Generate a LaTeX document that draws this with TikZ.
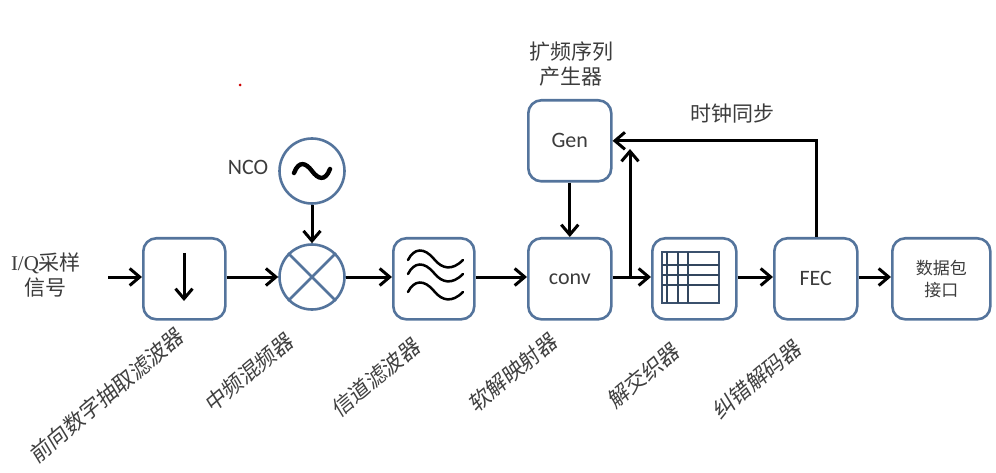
\documentclass[tikz,border=0pt]{standalone}
\usepackage{fontspec}
\setmainfont{Carlito}
\newfontfamily\cjk{Noto Sans CJK SC}
\usetikzlibrary{arrows.meta}
\definecolor{boxblue}{RGB}{84,116,156}
\definecolor{txt}{RGB}{60,60,60}
\tikzset{
 x=1pt,y=-1pt,
 block/.style={draw=boxblue,line width=2.6pt,rounded corners=13pt,fill=white,inner sep=0pt,anchor=north west,text=txt},
 disc/.style={draw=boxblue,line width=2.6pt,circle,minimum size=65pt,inner sep=0pt,fill=white},
 flow/.style={line width=3pt,black,-{Straight Barb[length=10pt,width=17pt,line width=3pt]}},
 lab/.style={text=txt,font=\cjk\fontsize{21}{25}\selectfont,align=center,inner sep=0pt},
 slab/.style={text=black!75,font=\cjk\fontsize{21.5}{25}\selectfont,inner sep=0pt,rotate=40,xslant=0.15,anchor=center},
 sans/.style={font=\fontsize{22}{24}\selectfont}
}
\begin{document}
\begin{tikzpicture}
\useasboundingbox (0,0) rectangle (996,473);
\node[block,minimum width=82pt,minimum height=81pt] (dec) at (142,237) {};
\node[disc] (mix) at (312,277) {};
\node[disc] (nco) at (312,171) {};
\node[block,minimum width=81pt,minimum height=81pt] (flt) at (392,237) {};
\node[block,minimum width=83pt,minimum height=81pt,sans] (conv) at (527,237) {conv};
\node[block,minimum width=83pt,minimum height=81pt,sans] (gen) at (527,99) {Gen};
\node[block,minimum width=84pt,minimum height=81pt] (ilv) at (651,237) {};
\node[block,minimum width=83pt,minimum height=81pt,sans] (fec) at (773,237) {FEC};
\node[block,minimum width=98pt,minimum height=81pt,font=\cjk\fontsize{17}{22}\selectfont,align=center] (pkt) at (891,237) {数据包\\接口};
% stray dot
\fill[red!80!black] (240,85) circle (1.5pt);
% mixer cross
\draw[boxblue,line width=2.6pt] (mix.45)--(mix.225) (mix.135)--(mix.315);
% NCO tilde
\draw[black,line width=4.4pt,line cap=round] (294,173) .. controls (299,160) and (306,163) .. (312,171) .. controls (318,179) and (325,182) .. (330,169);
% down arrow in decimator
\coordinate (da) at (184,253); \coordinate (db) at (184,301);
\draw[flow] (da)--(db);
% waves
\foreach \y in {260,274,292}{
 \draw[black,line width=2.5pt,line cap=round] (408,\y) .. controls (414,\y-12) and (424,\y-13) .. (434,\y-1) .. controls (442,\y+9) and (452,\y+11) .. (463,\y);
}
% interleaver table
\draw[boxblue!70!black,line width=2.6pt] (662,252) rectangle (719,303);
\draw[boxblue!60!black,line width=1.3pt] (667,252)--(667,303) (678,252)--(678,303) (688,252)--(688,303)
 (662,265)--(719,265) (662,275)--(719,275) (662,285)--(719,285);
% labels
\node[lab,anchor=center] (iq) at (46,275) {{\fontspec{Liberation Serif}I/Q}采样\\信号};
\coordinate (iqs) at (108,277);
\node[lab,anchor=center,sans] (ncol) at (248,167) {NCO};
\node[lab] (genl) at (571,64) {扩频序列\\产生器};
\node[lab] (clk) at (732,114) {时钟同步};
% connectors
\coordinate (j) at (630,277);
\coordinate (up) at (630,149);
\coordinate (c) at (816,139);
\draw[flow] (iqs)--(dec.west |- iqs);
\draw[flow] (dec.east |- mix)--(mix.west);
\draw[flow] (mix.east)--(flt.west |- mix);
\draw[flow] (flt.east |- mix)--(conv.west |- mix);
\draw[flow] (conv.east |- mix)--(ilv.west |- mix);
\draw[flow] (ilv.east |- mix)--(fec.west |- mix);
\draw[flow] (fec.east |- mix)--(pkt.west |- mix);
\draw[flow] (nco.south)--(mix.north);
\draw[flow] (gen.south)--(conv.north);
\draw[flow] (j)--(up);
\draw[flow] (fec.north -| c) |- (gen.east);
% rotated labels
\node[slab] (l1) at (107,395) {前向数字抽取滤波器};
\node[slab] (l2) at (249,372) {中频混频器};
\node[slab] (l3) at (376,377) {信道滤波器};
\node[slab] (l4) at (513,372) {软解映射器};
\node[slab] (l5) at (644,375) {解交织器};
\node[slab] (l6) at (757,379) {纠错解码器};
\end{tikzpicture}
\end{document}
